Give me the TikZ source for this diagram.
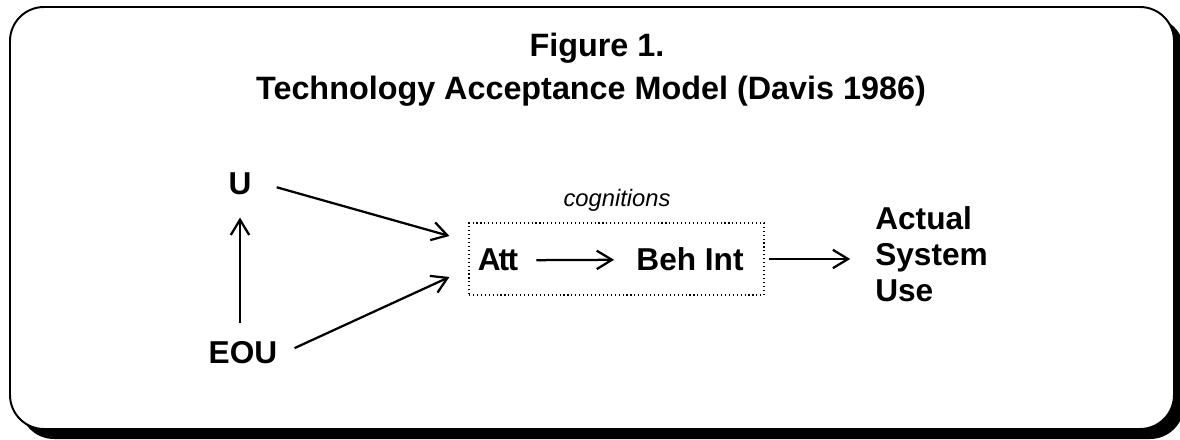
\documentclass[tikz,border=0pt]{standalone}
\usepackage{fontspec}
\setsansfont{Liberation Sans}
\usetikzlibrary{arrows.meta,calc}
\tikzset{
         lbl/.style={font=\sffamily\bfseries\fontsize{22.5}{25.6}\selectfont,inner sep=0pt},
         arr/.style={line width=1.6pt,-{Straight Barb[length=3.8mm,width=4.6mm,line width=1.6pt]}}
        }
\begin{document}
\begin{tikzpicture}[x=0.25mm,y=-0.25mm]
\clip(0,0)rectangle(1180,440);
%frame with shadow
\fill[black,rounded corners=8.5mm](20,17)rectangle(1184,439);
\draw[line width=1.4pt,fill=white,rounded corners=8.5mm](10,7)rectangle(1174,429);
%title
\node[lbl,font=\sffamily\bfseries\fontsize{23}{27}\selectfont,anchor=base](fig)at(597,57){Figure 1.};
\node[lbl,font=\sffamily\bfseries\fontsize{23}{27}\selectfont,anchor=base](title)at(591,100){Technology Acceptance Model (Davis 1986)};
%model
\node[lbl,anchor=base](u)at(240,195){U};
\node[lbl,anchor=base](eou)at(243,363){EOU};
\node[draw,dotted,line width=0.8pt,minimum width=73.75mm,minimum height=18mm](box)at(616.5,259){};
\node[font=\sffamily\itshape\fontsize{16.9}{20}\selectfont,inner sep=0pt,anchor=base](cog)at(617,207){cognitions};
\node[lbl,anchor=base](att)at(498,271){A\kern-1.5pt t\kern-1pt t};
\node[lbl,anchor=base](beh)at(690,271){Beh Int};
\node[lbl,anchor=west,align=left](use)at(875,254){Actual\\System\\Use};
%arrows
\draw[arr,shorten <=4.5mm,shorten >=5.5mm](u.south|-eou.north)--(u.south);
\draw[arr]($(u.east)+(25,3)$)--($(box.west)+(-19,-23)$);
\draw[arr]($(eou.east)+(17,-4)$)--($(box.west)+(-19,18)$);
\draw[arr,shorten <=4.5mm,shorten >=5.5mm](att.east)--(beh.west);
\draw[arr,shorten <=1.2mm,shorten >=6.2mm](box.east)--(box.east-|use.west);
\end{tikzpicture}
\end{document}
